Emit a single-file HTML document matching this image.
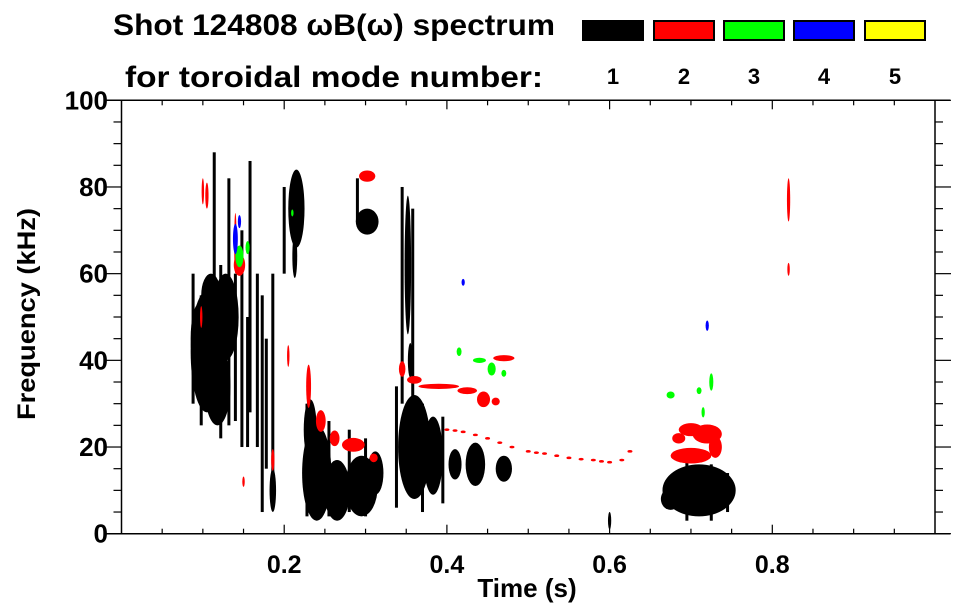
<!DOCTYPE html>
<html><head><meta charset="utf-8"><style>
body{margin:0;background:#fff;}
svg{display:block;font-family:"Liberation Sans",Arial,sans-serif;font-weight:bold;}
</style></head><body>
<svg id="chart" width="963" height="615" viewBox="0 0 963 615" xmlns="http://www.w3.org/2000/svg">
<text x="113" y="35" font-size="30" textLength="442" lengthAdjust="spacingAndGlyphs">Shot 124808 ωB(ω) spectrum</text>
<text x="125" y="87" font-size="30" textLength="418" lengthAdjust="spacingAndGlyphs">for toroidal mode number:</text>
<g id="legend"></g>
<g id="marks"></g>
<g id="axes"></g>
<text x="527" y="597" font-size="26" text-anchor="middle">Time (s)</text>
<text transform="translate(35,314) rotate(-90)" font-size="25" text-anchor="middle" textLength="212" lengthAdjust="spacingAndGlyphs">Frequency (kHz)</text>
</svg>
<script>
const modeNames = ['1','2','3','4','5'];
const modeColors = ['#000000','#ff0000','#00ff00','#0000ff','#ffff00'];
const xTicks = [0.2,0.4,0.6,0.8];
const yTicks = [0,20,40,60,80,100];
// blobs: [timeCenter(s), freqCenter(kHz), halfWidth(s), halfHeight(kHz)]
const mode1Blobs = [
 [0.105,42,0.02,14],[0.128,50,0.016,10],[0.118,34,0.016,9],[0.095,45,0.01,8],[0.11,55,0.012,5],
 [0.215,75,0.01,9],[0.213,64,0.003,5],[0.186,10,0.004,5],
 [0.24,14,0.018,11],[0.232,24,0.008,7],[0.265,10,0.016,7],[0.295,11,0.02,7],[0.312,14,0.01,5],
 [0.302,72,0.014,3],[0.352,62,0.004,16],[0.355,40,0.003,4],
 [0.36,20,0.02,12],[0.383,18,0.012,9],[0.41,16,0.008,3.5],[0.435,16,0.012,5],[0.47,15,0.01,3],
 [0.71,10,0.045,6],[0.675,8,0.012,2.5],[0.6,3,0.002,2]
];
// streaks: [time(s), freqLow(kHz), freqHigh(kHz)]
const mode1Streaks = [
 [0.114,30,88],[0.158,28,86],[0.167,20,60],[0.173,5,55],[0.178,15,45],[0.186,8,60],[0.148,20,70],
 [0.132,25,82],[0.088,30,60],[0.2,60,80],[0.345,30,80],[0.358,25,75],[0.29,72,82],
 [0.098,25,55],[0.122,22,62],[0.14,26,60],[0.155,20,50],[0.228,4,30],[0.255,4,26],[0.28,5,24],
 [0.3,4,22],[0.338,6,34],[0.37,5,30],[0.395,7,27],[0.695,3,17],[0.725,3,16],[0.745,5,14]
];
const mode2Blobs = [
 [0.23,34,0.003,5],[0.245,26,0.006,2.5],[0.262,22,0.006,1.8],[0.285,20.5,0.014,1.6],[0.31,17.5,0.005,1],
 [0.302,82.5,0.01,1.3],[0.345,38,0.004,1.8],[0.36,35.5,0.009,0.9],[0.39,34,0.025,0.6],[0.425,33,0.012,0.8],
 [0.445,31,0.008,1.8],[0.46,30.5,0.005,0.9],[0.47,40.5,0.013,0.7],
 [0.7,18,0.025,1.8],[0.72,23,0.018,2.2],[0.685,22,0.008,1.2],[0.73,20,0.008,2.5],[0.7,24,0.015,1.5],
 [0.82,77,0.002,5],[0.82,61,0.0015,1.5],[0.145,62,0.007,2.5],[0.1,79,0.0015,3],[0.14,67,0.0015,7],
 [0.205,41,0.0015,2.5],[0.186,17,0.002,2.5],[0.15,12,0.0015,1.2],[0.105,78,0.002,3],[0.098,50,0.0015,2.5]
];
// dotted red line: [time(s), freq(kHz)]
const mode2Line = [[0.40,24],[0.41,23.8],[0.42,23.5],[0.435,22.8],[0.45,22],[0.465,21],[0.48,20],[0.5,19],[0.51,18.7],[0.52,18.5],[0.535,18],[0.55,17.5],[0.565,17.2],[0.58,17],[0.59,16.7],[0.6,16.5],[0.615,17],[0.625,19]];
const mode3Blobs = [
 [0.145,64,0.005,2.5],[0.155,66,0.0025,1.5],[0.415,42,0.003,1],[0.44,40,0.008,0.6],[0.455,38,0.005,1.5],
 [0.47,37,0.003,0.8],[0.675,32,0.005,0.8],[0.71,33,0.003,0.8],[0.725,35,0.0025,2],[0.715,28,0.002,1.2],[0.21,74,0.0015,0.8]
];
const mode4Blobs = [[0.14,68,0.003,3.5],[0.145,72,0.002,1.5],[0.42,58,0.002,0.8],[0.72,48,0.002,1.2]];

const NS='http://www.w3.org/2000/svg';
const L=121.5,R=935,T=100.3,B=533.7;
function xs(t){return L+813.5*t;}
function ys(f){return B-(B-T)*f/100;}
function mk(tag,attrs,parent){const e=document.createElementNS(NS,tag);for(const k in attrs)e.setAttribute(k,attrs[k]);parent.appendChild(e);return e;}
const marks=document.getElementById('marks'), axes=document.getElementById('axes'), leg=document.getElementById('legend');

function drawBlobs(arr,color,name){
 arr.forEach(b=>{
  const e=mk('ellipse',{cx:xs(b[0]),cy:ys(b[1]),rx:Math.max(1,xs(b[2])-L),ry:Math.max(1,B-ys(b[3])),fill:color},marks);
  
  
 });
}
drawBlobs(mode1Blobs,modeColors[0],'mode1-blob');
mode1Streaks.forEach(s=>{
 const e=mk('rect',{x:xs(s[0])-1.5,y:ys(s[2]),width:3,height:ys(s[1])-ys(s[2]),fill:'#000'},marks);
 
 
});
drawBlobs(mode2Blobs,modeColors[1],'mode2-blob');
mode2Line.forEach(p=>{
 const e=mk('ellipse',{cx:xs(p[0]),cy:ys(p[1]),rx:2.5,ry:1.3,fill:modeColors[1]},marks);
 
 
});
drawBlobs(mode3Blobs,modeColors[2],'mode3-blob');
drawBlobs(mode4Blobs,modeColors[3],'mode4-blob');

// legend
const legX=[582,653,723,793,864];
modeNames.forEach((n,i)=>{
 const r=mk('rect',{x:legX[i]+1,y:21,width:60,height:19,fill:modeColors[i],stroke:'#000','stroke-width':2},leg);
 
 
 const t=mk('text',{x:legX[i]+31,y:84,'font-size':22,'text-anchor':'middle'},leg);
 t.textContent=n;
 
 
});

// frame
mk('line',{x1:105,y1:T,x2:950,y2:T,stroke:'#000','stroke-width':1.5},axes);
mk('line',{x1:105,y1:B,x2:950,y2:B,stroke:'#000','stroke-width':1.5},axes);
mk('line',{x1:L,y1:T,x2:L,y2:B,stroke:'#000','stroke-width':1.5},axes);
mk('line',{x1:R,y1:T,x2:R,y2:B,stroke:'#000','stroke-width':1.5},axes);
for(let i=1;i<20;i++){
 const t=i*0.05,x=xs(t),maj=i%4===0,len=maj?9:5;
 mk('line',{x1:x,y1:B,x2:x,y2:B-len,stroke:'#000','stroke-width':1.2},axes);
 mk('line',{x1:x,y1:T,x2:x,y2:T+len,stroke:'#000','stroke-width':1.2},axes);
}
for(let i=0;i<=20;i++){
 const y=ys(i*5),maj=i%4===0,len=maj?16:8;
 mk('line',{x1:L,y1:y,x2:L-len,y2:y,stroke:'#000','stroke-width':1.2},axes);
 mk('line',{x1:R,y1:y,x2:R+len,y2:y,stroke:'#000','stroke-width':1.2},axes);
}
xTicks.forEach(v=>{
 const t=mk('text',{x:xs(v),y:573,'font-size':25,'text-anchor':'middle'},axes);
 t.textContent=v.toFixed(1);
 
 
});
yTicks.forEach(v=>{
 const t=mk('text',{x:108,y:ys(v)+9,'font-size':26,'text-anchor':'end'},axes);
 t.textContent=v;
 
 
});
</script>
</body></html>
